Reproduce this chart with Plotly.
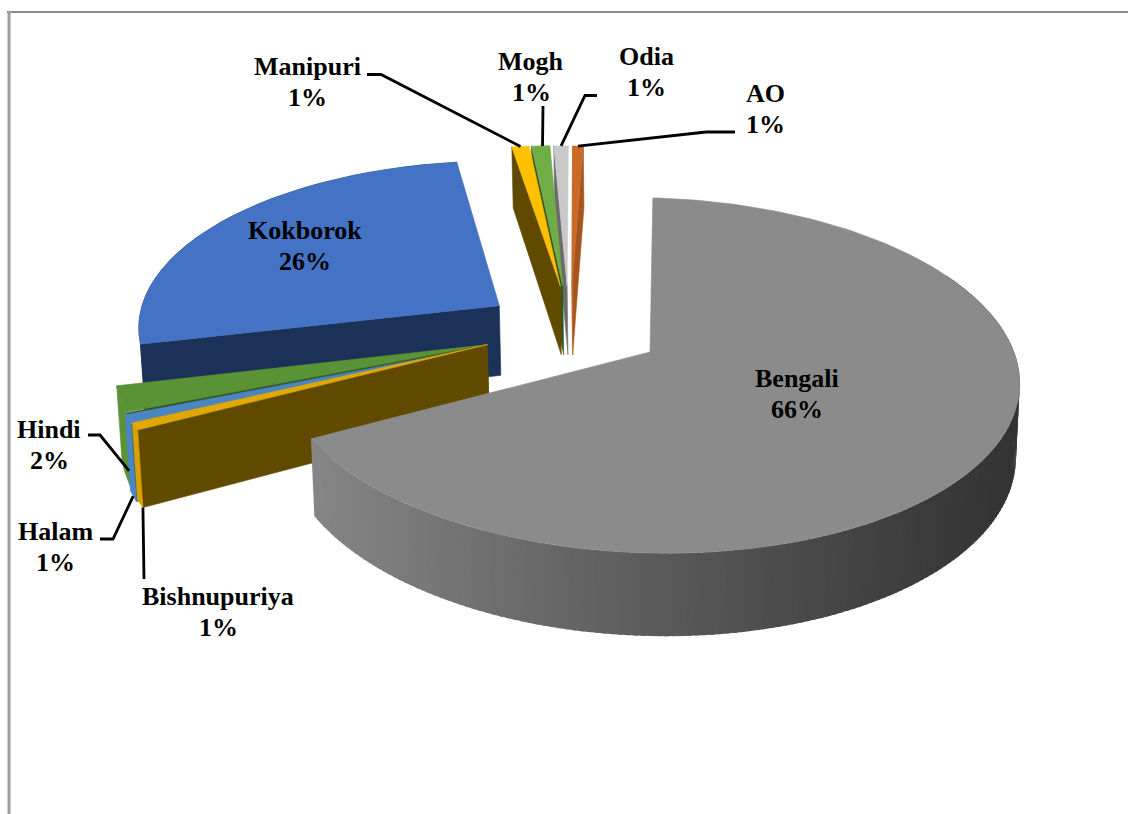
import numpy as np
import plotly.graph_objects as go

# Language shares (percent, clockwise from twelve o'clock)
languages = ["Bengali", "Bishnupuriya", "Halam", "Hindi", "Kokborok", "Manipuri", "Mogh", "Odia", "AO"]
shares = [66.45, 0.7, 0.9, 2.4, 26.4, 0.9, 0.95, 0.75, 0.55]

# Per-slice look: face colour, side colour, explosion offset on the pie's ground plane
face_colors = ["#8b8b8b", "#e3a800", "#4a86c2", "#5a9236", "#4472c4", "#ffc000", "#70ad47", "#c9c9c9", "#c96a28"]
wall_colors = ["#595959", "#604a00", "#2c5a85", "#35541f", "#1c3157", "#604a00", "#35541f", "#6b6b6b", "#c96a28"]
rim_colors = ["#595959", "#d9a000", "#4a86c2", "#5a9236", "#1c3157", "#604a00", "#35541f", "#6b6b6b", "#a4551f"]
offset_x = [0.0, -0.445, -0.446, -0.445, -0.425, -0.257, -0.250, -0.2376, -0.224]
offset_y = [0.0, 0.022, 0.012, 0.022, 0.255, 0.385, 0.385, 0.385, 0.385]

# Label placement (centre of the two-line text) and leader routing
label_x = [797, 218, 55, 49, 305, 307, 531, 646, 765]
label_y = [394, 612, 547, 445, 246, 82, 77, 72, 109]
LINE_GAP = 31
leaders = {
    1: ([144, 144], [579], 1.0, 0.0),
    2: ([100, 113], [539], 1.0, 0.5),
    3: ([88, 100], [435], 0.8, 0.1),
    5: ([367, 381], [74.5], 0.0, 0.5),
    6: ([543, 543], [106], 0.0, 0.6),
    7: ([597, 585], [95.5], 0.0, 0.5),
    8: ([735, 706], [132], 0.0, 0.5),
}

ROTATION = 0.5
VX, VY = 650.0, 352.0
RX, RY = 366.5, 174.5
PERSPECTIVE = 0.132
SKEW = 8.0
DEPTH = 72.0
TAPER = 0.01


def project(wx, wy, depth=0.0):
    s = 1.0 / (1.0 + PERSPECTIVE * wy)
    px = VX + RX * wx * s * (1.0 - TAPER * depth)
    py = VY + (-RY * wy + SKEW * wx) * s + DEPTH * depth * s
    return px, py


def arc(index, a0, a1, depth=0.0, n=120):
    t = np.radians(np.linspace(a0, a1, n))
    return project(offset_x[index] + np.sin(t), offset_y[index] + np.cos(t), depth)


fig = go.Figure()


def polygon(px, py, color, name, edge=0.6):
    fig.add_trace(go.Scatter(
        x=np.append(px, px[0]), y=np.append(py, py[0]), mode="lines", fill="toself",
        fillcolor=color, line=dict(color=color, width=edge), hoverinfo="skip",
        showlegend=False, name=name))


def mix(c0, c1, f):
    return "rgb(%d,%d,%d)" % tuple(round(a + (b - a) * f) for a, b in zip(c0, c1))


edges = np.cumsum([0.0] + shares) * 3.6 + ROTATION


def radial_wall(i, angle, color):
    ax0, ay0 = project(offset_x[i], offset_y[i])
    ax1, ay1 = project(offset_x[i], offset_y[i], 1.0)
    ox0, oy0 = arc(i, angle, angle, 0.0, 1)
    ox1, oy1 = arc(i, angle, angle, 1.0, 1)
    polygon(np.array([ax0, ox0[0], ox1[0], ax1]), np.array([ay0, oy0[0], oy1[0], ay1]), color, languages[i])


def flat_rim(i):
    tx, ty = arc(i, edges[i], edges[i + 1], 0.0, 30)
    bx, by = arc(i, edges[i], edges[i + 1], 1.0, 30)
    polygon(np.r_[tx, bx[::-1]], np.r_[ty, by[::-1]], rim_colors[i], languages[i])


def shaded_rim(i):
    # Painted left to right in overlapping bands so no seams show between them
    steps = np.linspace(edges[i + 1], 60, 170)
    for b0, b1 in zip(steps[:-1], steps[1:]):
        tx, ty = arc(i, b1 - 0.6, b0, 0.0, 3)
        bx, by = arc(i, b1 - 0.6, b0, 1.0, 3)
        f = np.clip((1020 - tx.mean()) / 710, 0, 1)
        polygon(np.r_[tx, bx[::-1]], np.r_[ty, by[::-1]],
                mix((0x33, 0x33, 0x33), (0x86, 0x86, 0x86), f ** 1.1), languages[i], edge=0)


def top_face(i):
    ax, ay = project(offset_x[i], offset_y[i])
    tx, ty = arc(i, edges[i], edges[i + 1], 0.0, 200)
    polygon(np.r_[ax, tx], np.r_[ay, ty], face_colors[i], languages[i])


# Back to front: the left-hand slices, then the narrow slices at the top, the large slice last
for i in (4, 3, 2, 1):
    radial_wall(i, edges[i], wall_colors[i])
    flat_rim(i)
    top_face(i)
radial_wall(8, edges[9], rim_colors[8])
for i in (8, 7, 6, 5):
    radial_wall(i, edges[i], wall_colors[i])
for i in (5, 6, 7, 8):
    top_face(i)
shaded_rim(0)
top_face(0)

# Leader lines from the label to the slice edge
for i, (xs, ys, depth, frac) in leaders.items():
    angle = edges[i] + (edges[i + 1] - edges[i]) * frac
    ex, ey = arc(i, angle, angle, depth, 1)
    fig.add_trace(go.Scatter(
        x=xs + [float(ex[0])], y=[ys[0], ys[0], float(ey[0])], mode="lines",
        line=dict(color="black", width=2.8), hoverinfo="skip", showlegend=False))

label_font = dict(family="Liberation Serif", size=26, color="black", weight=700)
for name, share, lx, ly in zip(languages, shares, label_x, label_y):
    for text, y in ((name, ly - LINE_GAP / 2), (f"{round(share)}%", ly + LINE_GAP / 2)):
        fig.add_annotation(x=lx, y=y, xref="x", yref="y", text=text, showarrow=False,
                           xanchor="center", yanchor="middle", font=label_font)

# Chart-area frame: only the top and left edges show
fig.add_shape(type="line", x0=7, x1=1128, y0=12, y1=12, layer="below", line=dict(color="#8a8a8a", width=2))
fig.add_shape(type="line", x0=9, x1=9, y0=11, y1=814, layer="below", line=dict(color="#9c9c9c", width=3))

fig.update_layout(
    width=1128, height=814, margin=dict(l=0, r=0, t=0, b=0),
    paper_bgcolor="white", plot_bgcolor="white", showlegend=False,
    xaxis=dict(range=[0, 1128], visible=False, fixedrange=True),
    yaxis=dict(range=[814, 0], visible=False, fixedrange=True),
)

fig.write_html("out.html", config={"displayModeBar": False})
